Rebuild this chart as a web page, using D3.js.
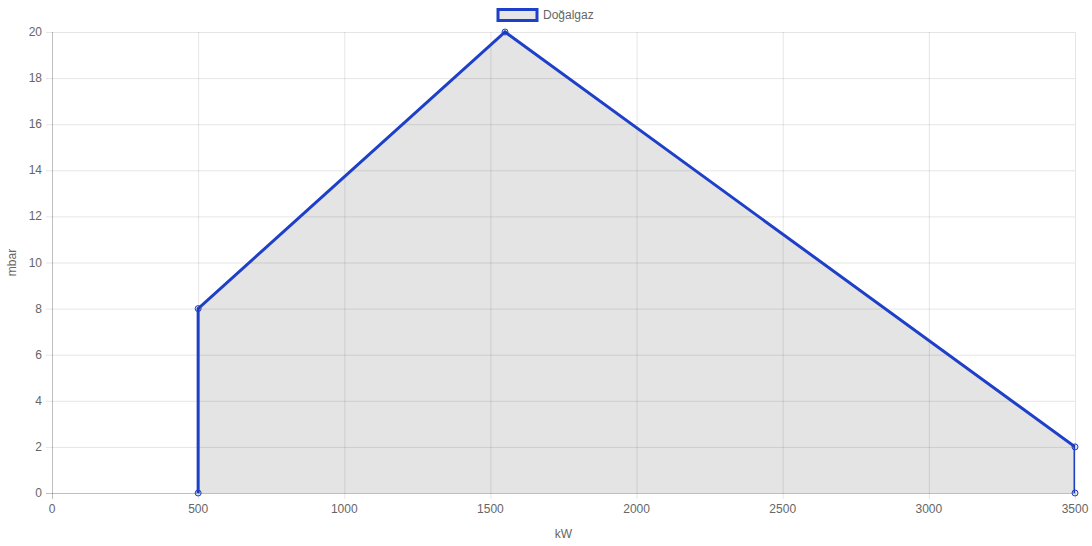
<!DOCTYPE html>
<html><head><meta charset="utf-8">
<script src="https://cdn.jsdelivr.net/npm/d3@7"></script>
<style>body{margin:0;background:#fff}svg{display:block;font-family:"Liberation Sans",Arial,sans-serif}</style>
</head><body><svg id="c" width="1092" height="546"></svg>
<script>
const seriesName = "Doğalgaz";
const kW = [500, 500, 1550, 3500, 3500];
const mbar = [0, 8, 20, 2, 0];
const xTicks = [0, 500, 1000, 1500, 2000, 2500, 3000, 3500];
const yTicks = [0, 2, 4, 6, 8, 10, 12, 14, 16, 18, 20];

const svg = d3.select("#c");
const L = 52, R = 1075, T = 32, B = 493;
const x = d3.scaleLinear().domain([0, 3500]).range([L, R]);
const y = d3.scaleLinear().domain([0, 20]).range([B, T]);
const blue = "#1e40c8";
const txt = "#666";

// grid
const g = svg.append("g");
xTicks.forEach(t => {
  g.append("line").attr("x1", x(t)+0.5).attr("x2", x(t)+0.5).attr("y1", T).attr("y2", B+6)
   .attr("stroke", t === 0 ? "rgba(0,0,0,0.25)" : "rgba(0,0,0,0.1)");
});
yTicks.forEach(t => {
  g.append("line").attr("y1", y(t)+0.5).attr("y2", y(t)+0.5).attr("x1", L-6).attr("x2", R)
   .attr("stroke", t === 0 ? "rgba(0,0,0,0.25)" : "rgba(0,0,0,0.1)");
});

// tick labels
svg.append("g").selectAll("text").data(xTicks).join("text")
  .attr("x", d => x(d)).attr("y", 513).attr("text-anchor", "middle")
  .attr("font-size", 12).attr("fill", txt).text(d => d);
svg.append("g").selectAll("text").data(yTicks).join("text")
  .attr("x", 42).attr("y", d => y(d) + 4).attr("text-anchor", "end")
  .attr("font-size", 12).attr("fill", txt).text(d => d);

// axis titles
svg.append("text").attr("x", x(1750)).attr("y", 538).attr("text-anchor", "middle")
  .attr("font-size", 12).attr("fill", txt).text("kW");
svg.append("text").attr("transform", `translate(16,${(T+B)/2}) rotate(-90)`).attr("text-anchor", "middle")
  .attr("font-size", 12).attr("fill", txt).text("mbar");

// clip
svg.append("clipPath").attr("id", "clip").append("rect")
  .attr("x", L).attr("y", T - 4).attr("width", R - L).attr("height", B - T + 8);

const pts = kW.map((k, i) => [k, mbar[i]]);
const area = d3.area().x(d => x(d[0])).y0(y(0)).y1(d => y(d[1]));
svg.append("path").datum(pts).attr("d", area).attr("fill", "rgba(0,0,0,0.105)").attr("clip-path", "url(#clip)");
const line = d3.line().x(d => x(d[0])).y(d => y(d[1]));
svg.append("path").datum(pts).attr("d", line).attr("fill", "none").attr("stroke", blue)
  .attr("stroke-width", 3).attr("stroke-linejoin", "miter").attr("clip-path", "url(#clip)");

svg.append("g").selectAll("circle").data(pts).join("circle")
  .attr("cx", d => x(d[0])).attr("cy", d => y(d[1])).attr("r", 3)
  .attr("fill", "rgba(0,0,0,0.1)").attr("stroke", blue).attr("stroke-width", 1);

// legend
svg.append("rect").attr("x", 498).attr("y", 9.5).attr("width", 39).attr("height", 11)
  .attr("fill", "#e6e6e6").attr("stroke", blue).attr("stroke-width", 3);
svg.append("text").attr("x", 543).attr("y", 19).attr("font-size", 12).attr("fill", txt).text(seriesName);
</script></body></html>
